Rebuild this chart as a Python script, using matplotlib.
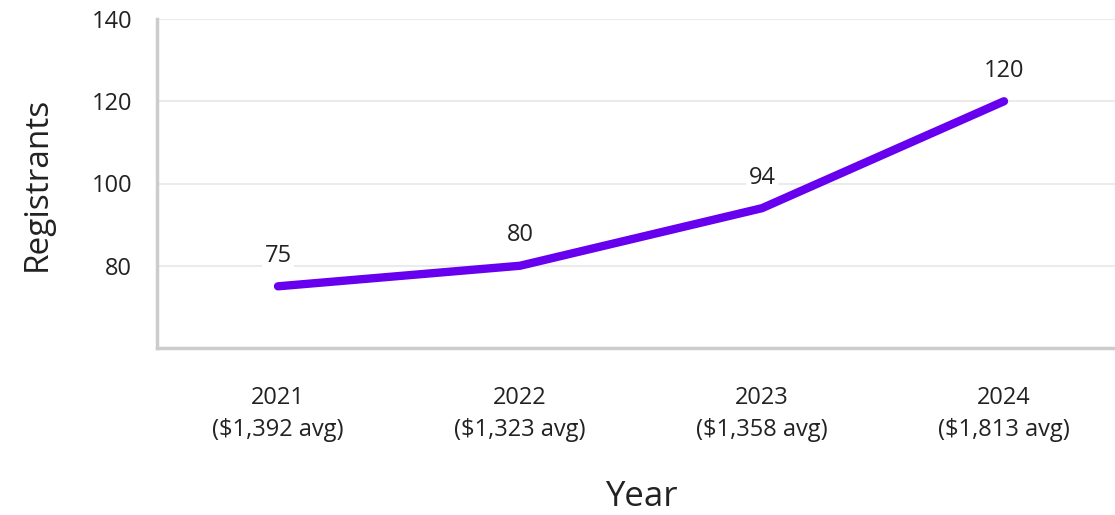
import matplotlib
matplotlib.use("Agg")
import matplotlib.pyplot as plt

# Data
years = ["2021", "2022", "2023", "2024"]
avg_price = ["$1,392", "$1,323", "$1,358", "$1,813"]
registrants = [75, 80, 94, 120]

plt.rcParams['font.family'] = ['Open Sans', 'DejaVu Sans']
text_color = '#222222'
line_color = '#6600EE'

fig = plt.figure(figsize=(11.15, 5.15), dpi=100)
ax = fig.add_axes([157 / 1115, 1 - 348 / 515, (1125 - 157) / 1115, (348 - 19) / 515])

x = list(range(len(years)))
ax.plot(x, registrants, color=line_color, linewidth=6, solid_capstyle='round', zorder=3)

# value labels above each point
for xi, v in zip(x, registrants):
    ax.annotate(str(v), (xi, v), xytext=(0, 22), textcoords='offset points',
                ha='center', va='center', fontsize=17, color=text_color,
                bbox=dict(boxstyle='square,pad=0.1', fc='white', ec='none'), zorder=4)

ax.set_xlim(-0.5, 3.5)
ax.set_ylim(60, 140)
ax.set_yticks([80, 100, 120, 140])
ax.set_xticks(x)
ax.set_xticklabels([f"{y}\n({p} avg)" for y, p in zip(years, avg_price)], linespacing=1.5)

ax.grid(axis='y', color='#ebebeb', linewidth=1.5, zorder=0)
ax.set_axisbelow(True)
ax.tick_params(length=0, labelsize=17, labelcolor=text_color)
ax.tick_params(axis='x', pad=27)
ax.tick_params(axis='y', pad=18)

for side in ['top', 'right']:
    ax.spines[side].set_visible(False)
for side in ['left', 'bottom']:
    ax.spines[side].set_color('#cccccc')
    ax.spines[side].set_linewidth(2.5)

ax.set_xlabel('Year', fontsize=25, color=text_color, labelpad=27)
ax.set_ylabel('Registrants', fontsize=24, color=text_color, labelpad=27)

fig.savefig('out.png', dpi=100)
